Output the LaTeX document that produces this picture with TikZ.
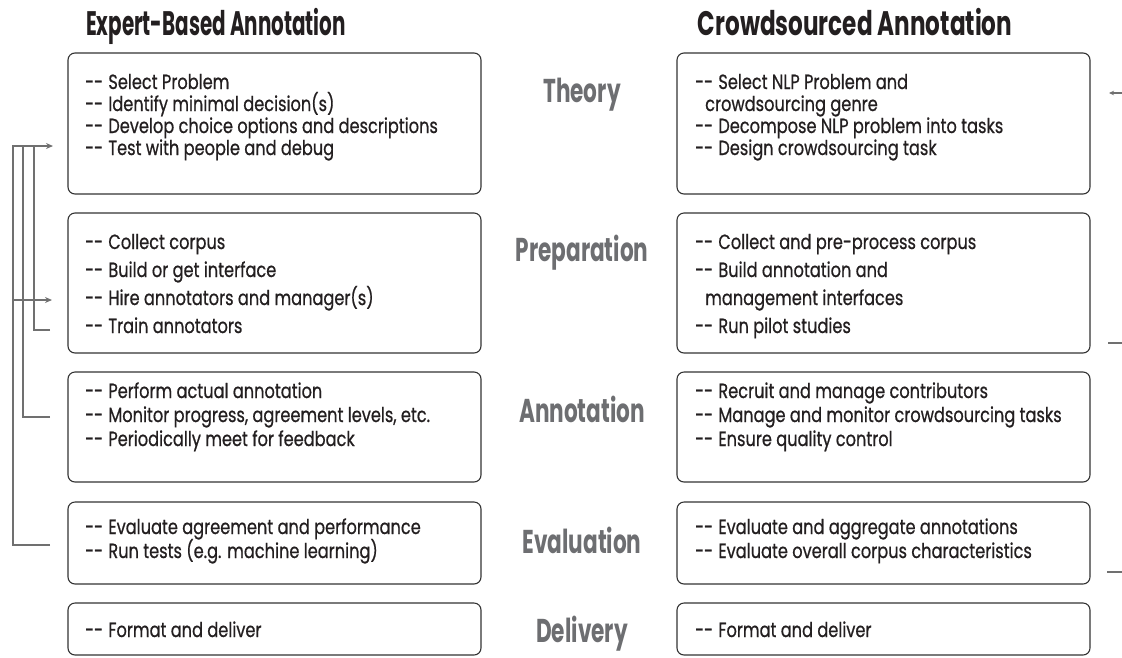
\documentclass[tikz,border=0pt]{standalone}
\usepackage{fontspec}
\setmainfont{Poppins}[FakeStretch=0.79, FakeBold=0.7]
\newfontfamily\headfontL{Poppins}[FakeStretch=0.585]
\newfontfamily\headfontR{Poppins}[FakeStretch=0.68]
\newfontfamily\phasefont{Poppins}[FakeStretch=0.655]
\usetikzlibrary{arrows.meta}
\definecolor{ink}{HTML}{231F20}
\definecolor{frame}{HTML}{333333}
\definecolor{phase}{HTML}{6D6E71}
\definecolor{conn}{HTML}{707070}
\newcommand\dd{-\kern0pt-\kern1pt}
\tikzset{
  box/.style={draw=frame, line width=1.1pt, rounded corners=7pt, inner sep=0pt, minimum width=413pt},
  txt/.style={inner sep=0pt, anchor=base west, font=\fontsize{20.5}{22}\selectfont, text=ink},
  headL/.style={inner sep=0pt, anchor=base, font=\headfontL\bfseries\fontsize{34}{36}\selectfont, text=ink},
  headR/.style={inner sep=0pt, anchor=base, font=\headfontR\bfseries\fontsize{34}{36}\selectfont, text=ink},
  phaselbl/.style={inner sep=0pt, anchor=base, font=\phasefont\bfseries\fontsize{33}{34}\selectfont, text=phase},
  conline/.style={draw=conn, line width=2pt},
  conarrow/.style={conline, -{Stealth[length=7pt,width=6pt]}},
}
\begin{document}
\begin{tikzpicture}[x=1pt,y=-1pt]
\useasboundingbox (0,0) rectangle (1122,657);
% titles
\node[headL] (tl) at (216,35) {Expert-Based Annotation};
\node[headR] (tr) at (855,35) {Crowdsourced Annotation};
% boxes
\node[box, minimum height=141pt] (L1) at (274.5,123.5) {};
\node[box, minimum height=140pt] (L2) at (274.5,283) {};
\node[box, minimum height=110pt] (L3) at (274.5,427) {};
\node[box, minimum height=82pt]  (L4) at (274.5,543) {};
\node[box, minimum height=52pt]  (L5) at (274.5,629) {};
\node[box, minimum height=141pt] (R1) at (883.5,123.5) {};
\node[box, minimum height=140pt] (R2) at (883.5,283) {};
\node[box, minimum height=110pt] (R3) at (883.5,427) {};
\node[box, minimum height=82pt]  (R4) at (883.5,543) {};
\node[box, minimum height=52pt]  (R5) at (883.5,629) {};
% phase labels
\node[phaselbl] (p1) at (582,102) {Theory};
\node[phaselbl] (p2) at (582,261) {Preparation};
\node[phaselbl] (p3) at (582,422) {Annotation};
\node[phaselbl] (p4) at (582,553) {Evaluation};
\node[phaselbl] (p5) at (582,642) {Delivery};
% left texts
\foreach \t [count=\i] in {Select Problem, Identify minimal decision(s), Develop choice options and descriptions, Test with people and debug}
  \node[txt] (a1-\i) at (85,{89+(\i-1)*22}) {\dd\ \t};
\foreach \t [count=\i] in {Collect corpus, Build or get interface, Hire annotators and manager(s), Train annotators}
  \node[txt] (a2-\i) at (85,{249+(\i-1)*28}) {\dd\ \t};
\foreach \t [count=\i] in {Perform actual annotation, {Monitor progress, agreement levels, etc.}, Periodically meet for feedback}
  \node[txt] (a3-\i) at (85,{398+(\i-1)*24}) {\dd\ \t};
\foreach \t [count=\i] in {Evaluate agreement and performance, Run tests (e.g. machine learning)}
  \node[txt] (a4-\i) at (85,{534+(\i-1)*24}) {\dd\ \t};
\node[txt] (a5-1) at (85,637) {\dd\ Format and deliver};
% right texts
\node[txt] (b1-1) at (695,89) {\dd\ Select NLP Problem and};
\node[txt] (b1-2) at (705,111) {crowdsourcing genre};
\node[txt] (b1-3) at (695,133) {\dd\ Decompose NLP problem into tasks};
\node[txt] (b1-4) at (695,155) {\dd\ Design crowdsourcing task};
\node[txt] (b2-1) at (695,249) {\dd\ Collect and pre-process corpus};
\node[txt] (b2-2) at (695,277) {\dd\ Build annotation and};
\node[txt] (b2-3) at (705,305) {management interfaces};
\node[txt] (b2-4) at (695,333) {\dd\ Run pilot studies};
\foreach \t [count=\i] in {Recruit and manage contributors, Manage and monitor crowdsourcing tasks, Ensure quality control}
  \node[txt] (b3-\i) at (695,{398+(\i-1)*24}) {\dd\ \t};
\foreach \t [count=\i] in {Evaluate and aggregate annotations, Evaluate overall corpus characteristics}
  \node[txt] (b4-\i) at (695,{534+(\i-1)*24}) {\dd\ \t};
\node[txt] (b5-1) at (695,637) {\dd\ Format and deliver};
% left feedback connectors
\coordinate (t1) at (53,146);
\coordinate (t2) at (52,300);
\coordinate (s1) at (50,330);
\coordinate (s2) at (50,417);
\coordinate (s3) at (50,545);
\draw[conarrow] (s3) -| (13,146) -- (t1);
\draw[conline] (s2) -| (23,146);
\draw[conline] (s1) -| (34,146);
\draw[conarrow] (13,300) -- (t2);
% cut-off marks at right edge
\coordinate (m1a) at (1122,93);
\coordinate (m1b) at (1109,93);
\draw[conn, line width=1.6pt, -{Stealth[length=5pt,width=4.5pt]}] (m1a) -- (m1b);
\coordinate (m2a) at (1108,343);
\coordinate (m2b) at (1122,343);
\draw[conn, line width=2pt] (m2a) -- (m2b);
\coordinate (m3a) at (1107,572);
\coordinate (m3b) at (1122,572);
\draw[conn, line width=2pt] (m3a) -- (m3b);
\end{tikzpicture}
\end{document}
